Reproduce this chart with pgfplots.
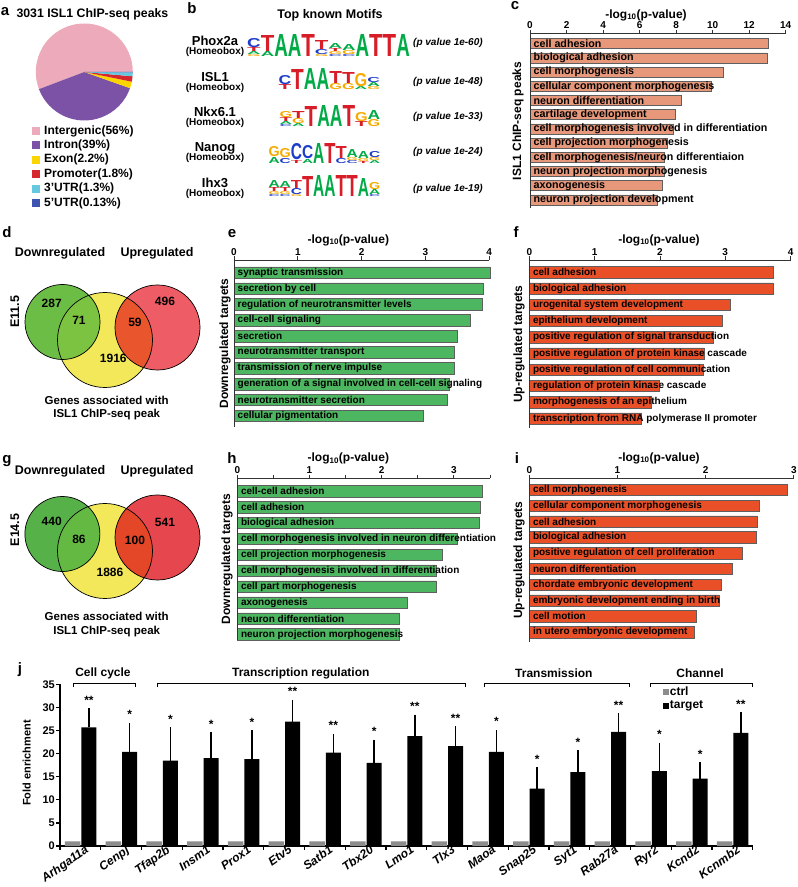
\documentclass[border=0pt]{standalone}
\usepackage{fontspec}
\setmainfont{Liberation Sans}
\usepackage{graphicx}
\usepackage{pgfplots}
\pgfplotsset{compat=1.18}
\newcommand\fs[1]{\fontsize{#1}{#1}\selectfont}
\definecolor{cpink}{RGB}{236,170,186}
\definecolor{cpurple}{RGB}{124,82,166}
\definecolor{cyellow}{RGB}{252,212,0}
\definecolor{cred}{RGB}{214,38,46}
\definecolor{ccyan}{RGB}{100,200,222}
\definecolor{cblue}{RGB}{62,82,178}
\definecolor{csal}{RGB}{232,152,122}
\definecolor{cgreenbar}{RGB}{76,182,96}
\definecolor{corbar}{RGB}{234,80,40}
\definecolor{bardraw}{RGB}{95,95,95}
\definecolor{vgreen}{RGB}{108,189,69}
\definecolor{vgreenY}{RGB}{125,195,66}
\definecolor{vred}{RGB}{238,92,102}
\definecolor{vredY}{RGB}{233,85,45}
\definecolor{vyellow}{RGB}{242,232,90}
\definecolor{wgreen}{RGB}{86,178,72}
\definecolor{wgreenY}{RGB}{100,185,66}
\definecolor{wred}{RGB}{230,70,78}
\definecolor{wredY}{RGB}{228,70,40}
\definecolor{ctrlgray}{RGB}{140,140,140}
\definecolor{lA}{RGB}{0,170,70}
\definecolor{lC}{RGB}{30,60,200}
\definecolor{lG}{RGB}{245,170,0}
\definecolor{lT}{RGB}{215,30,40}
\newcommand\LA{\textcolor{lA}{\bfseries A}}
\newcommand\LC{\textcolor{lC}{\bfseries C}}
\newcommand\LG{\textcolor{lG}{\bfseries G}}
\newcommand\LT{\textcolor{lT}{\bfseries T}}
% sequence logo: x0, baseline, column width, columns (bottom->top letter/height)
\newcommand\logo[4]{%
  \foreach \col [count=\i] in {#4} {%
    \foreach \l/\h [remember=\t as \b (initially 0), evaluate=\h as \t using \b+\h] in \col {%
      \node[anchor=south west, inner sep=0pt] at ({#1+(\i-1)*#3},{#2+\b}) {\resizebox{#3pt}{\h pt}{\csname L\l\endcsname}};
    }%
  }%
}
\pgfplotsset{
  gobar/.style={
    scale only axis, axis on top,
    axis x line=top, axis y line=left,
    axis line style={-, line width=0.9pt, draw=black!80},
    y dir=reverse, enlargelimits=false, clip=false,
    tick align=outside, major tick length=3.5pt,
    xtick style={line width=0.9pt, black!80},
    ytick style={draw=none},
    xticklabel style={font=\fs{10}\bfseries, inner sep=1pt},
    yticklabel style={anchor=west, xshift=7pt, font=\fs{10}\bfseries, inner sep=0pt},
    /pgf/number format/assume math mode=true,
  }
}
\begin{document}
\begin{tikzpicture}[font=\bfseries]
\path[use as bounding box] (0pt,0pt) rectangle (798pt,887pt);
\begin{scope}[x=1pt,y=1pt]
% ---------- panel letters
\foreach \t/\x/\y in {a/5/871.4,b/192/873.3,c/515/877,d/7/649,e/232/649,f/516/649,g/7/423,h/232/423,i/517/423,j/20/213.2}
  \node[anchor=base, font=\fs{15}\bfseries, inner sep=0pt] at (\x,\y) {\t};
% ---------- a : pie
\node[anchor=west, font=\fs{12.3}\bfseries] at (13,873) {3031 ISL1 ChIP-seq peaks};
\foreach \p/\c [remember=\e as \s (initially 0), evaluate=\p as \e using \s+\p*3.6/1.0043] in {56/cpink,39/cpurple,2.2/cyellow,1.8/cred,1.3/ccyan,0.13/cblue} {
  \fill[\c] (84.3,815) -- +(\s:48.5) arc[start angle=\s, end angle=\e, radius=48.5] -- cycle;
}
\foreach \c/\t [count=\i] in {cpink/Intergenic(56\%),cpurple/Intron(39\%),cyellow/Exon(2.2\%),cred/Promoter(1.8\%),ccyan/3'UTR(1.3\%),cblue/5'UTR(0.13\%)} {
  \fill[\c] (32,{887-131-(\i-1)*14.4-4}) rectangle ++(8,8);
  \node[anchor=west, font=\fs{12}\bfseries, inner sep=0pt] at (44,{887-131-(\i-1)*14.4}) {\t};
}
% ---------- b : motifs
\node[font=\fs{12.5}\bfseries] at (330,872) {Top known Motifs};
\foreach \n/\o/\p/\q in {Phox2a/0/60/0,ISL1/36/48/39,Nkx6.1/70.5/33/74,Nanog/106/24/109,Ihx3/141.5/19/146} {
  \node[anchor=base, font=\fs{13}\bfseries, inner sep=0pt] at (215,{841-\o}) {\n};
  \node[anchor=base, font=\fs{10}\bfseries, inner sep=0pt] at (215,{832-\o}) {(Homeobox)};
  \node[anchor=west, font=\fs{10}\bfseries\itshape, inner sep=0pt] at (413,{844-\q}) {(p value 1e-\p)};
}
\logo{247}{830.3}{13.55}{{G/2,A/3,T/4,C/9},{A/5,T/16},{A/22},{A/22},{T/22},{G/2,C/5,T/9},{C/2,G/3,T/3,A/5},{C/2,G/4,A/6},{A/22},{T/22},{T/22},{A/22}}
\logo{278.3}{797}{12.7}{{T/5,C/9},{T/20},{A/21},{A/21},{G/6,T/12},{G/6,T/11},{A/3,G/13},{G/3,A/4,C/5}}
\logo{279.3}{760.3}{12.6}{{C/2,A/3,T/4,G/6},{A/3,G/5,T/7},{T/20},{A/21},{A/21},{T/21},{T/5,G/9},{G/7,A/9}}
\logo{268.3}{723.7}{11.17}{{A/6,G/10},{C/5,G/9},{T/3,C/16},{A/4,C/13},{A/20},{T/20},{C/5,T/12},{C/3,G/3,A/8},{T/2,G/3,A/7},{A/3,G/3,C/6}}
\logo{268.3}{690.3}{11.17}{{C/2,G/3,T/4,A/7},{C/2,G/3,T/4,A/6},{G/2,C/6,T/8},{T/20},{A/21},{A/21},{T/21},{T/21},{A/18},{C/2,A/5,G/7}}
% ---------- d : Venn E11.5
\node[font=\fs{12.5}\bfseries] at (60,634) {Downregulated};
\node[font=\fs{12.5}\bfseries] at (157,634) {Upregulated};
\node[rotate=90, font=\fs{12.5}\bfseries] at (15,575) {E11.5};
\fill[vyellow] (105,547) circle[radius=47.5];
\fill[vgreen] (62.5,565) circle[radius=37.5];
\fill[vred] (157.5,559.5) circle[radius=42.5];
\begin{scope}
  \clip (105,547) circle[radius=47.5];
  \fill[vgreenY] (62.5,565) circle[radius=37.5];
  \fill[vredY] (157.5,559.5) circle[radius=42.5];
\end{scope}
\draw[line width=0.7pt] (105,547) circle[radius=47.5] (62.5,565) circle[radius=37.5] (157.5,559.5) circle[radius=42.5];
\foreach \v/\x/\y in {287/51.7/583.7,71/79/566.3,496/165/585.3,59/135/564.3,1916/113.3/528.7}
  \node[font=\fs{12}\bfseries] at (\x,\y) {\v};
\node[font=\fs{11.5}\bfseries] at (106.7,487) {Genes associated with};
\node[font=\fs{11.5}\bfseries] at (106.7,472) {ISL1 ChIP-seq peak};
% ---------- g : Venn E14.5
\node[font=\fs{12.5}\bfseries] at (60,415.3) {Downregulated};
\node[font=\fs{12.5}\bfseries] at (157,415.3) {Upregulated};
\node[rotate=90, font=\fs{12.5}\bfseries] at (15,357) {E14.5};
\fill[vyellow] (105,336) circle[radius=47.5];
\fill[wgreen] (62.4,353) circle[radius=37.5];
\fill[wred] (157.5,349.5) circle[radius=42.5];
\begin{scope}
  \clip (105,336) circle[radius=47.5];
  \fill[wgreenY] (62.4,353) circle[radius=37.5];
  \fill[wredY] (157.5,349.5) circle[radius=42.5];
\end{scope}
\draw[line width=0.7pt] (105,336) circle[radius=47.5] (62.4,353) circle[radius=37.5] (157.5,349.5) circle[radius=42.5];
\foreach \v/\x/\y in {440/51.7/365.3,86/79/347.7,541/165/364.3,100/135/347,1886/110/314.3}
  \node[font=\fs{12}\bfseries] at (\x,\y) {\v};
\node[font=\fs{11.5}\bfseries] at (106.7,270.3) {Genes associated with};
\node[font=\fs{11.5}\bfseries] at (106.7,255) {ISL1 ChIP-seq peak};
% ---------- axis titles and y labels
\foreach \x/\y in {646/872,348.3/647,659/647,348.3/428.7,659/429}
  \node[font=\fs{12}\bfseries] at (\x,\y) {-log\textsubscript{10}(p-value)};
\node[rotate=90, font=\fs{12}\bfseries] at (518,766) {ISL1 ChIP-seq peaks};
\node[rotate=90, font=\fs{12}\bfseries] at (225,543.5) {Downregulated targets};
\node[rotate=90, font=\fs{12}\bfseries] at (519,543) {Up-regulated targets};
\node[rotate=90, font=\fs{12}\bfseries] at (227,328) {Downregulated targets};
\node[rotate=90, font=\fs{12}\bfseries] at (519,327) {Up-regulated targets};
\node[rotate=90, font=\fs{11}\bfseries] at (26.7,124) {Fold enrichment};
\end{scope}
% ---------- c
\begin{axis}[gobar, at={(530pt,853.7pt)}, anchor=north west, width=255.7pt, height=174.7pt,
  xmin=0, xmax=14, xtick={0,2,...,14}, ymin=0.27, ymax=12.57, ytick={1,...,12},
  yticklabels={cell adhesion,biological adhesion,cell morphogenesis,cellular component morphogenesis,neuron differentiation,cartilage development,cell morphogenesis involved in differentiation,cell projection morphogenesis,cell morphogenesis/neuron differentiaion,neuron projection morphogenesis,axonogenesis,neuron projection development},
  yticklabel style={font=\fs{10.7}\bfseries}]
\addplot[xbar, bar width=0.7, fill=csal, draw=bardraw, line width=0.6pt] coordinates {(13.05,1) (13.0,2) (10.59,3) (9.95,4) (8.31,5) (7.94,6) (7.85,7) (7.54,8) (7.34,9) (7.36,10) (7.27,11) (6.99,12)};
\end{axis}
% ---------- e
\begin{axis}[gobar, at={(234pt,627pt)}, anchor=north west, width=255.2pt, height=167pt,
  xmin=0, xmax=4, xtick={0,...,4}, ymin=0.2, ymax=10.7, ytick={1,...,10},
  yticklabels={synaptic transmission,secretion by cell,regulation of neurotransmitter levels,cell-cell signaling,secretion,neurotransmitter transport,transmission of nerve impulse,generation of a signal involved in cell-cell signaling,neurotransmitter secretion,cellular pigmentation}]
\addplot[xbar, bar width=0.73, fill=cgreenbar, draw=bardraw, line width=0.6pt] coordinates {(4.01,1) (3.91,2) (3.89,3) (3.70,4) (3.50,5) (3.46,6) (3.45,7) (3.37,8) (3.34,9) (2.96,10)};
\end{axis}
% ---------- f
\begin{axis}[gobar, at={(529.3pt,627pt)}, anchor=north west, width=261.3pt, height=168pt,
  xmin=0, xmax=4, xtick={0,...,4}, ymin=0.24, ymax=10.58, ytick={1,...,10},
  yticklabels={cell adhesion,biological adhesion,urogenital system development,epithelium development,positive regulation of signal transduction,positive regulation of protein kinase cascade,positive regulation of cell communication,regulation of protein kinase cascade,morphogenesis of an epithelium,transcription from RNA polymerase II promoter}]
\addplot[xbar, bar width=0.7, fill=corbar, draw=bardraw, line width=0.6pt] coordinates {(3.74,1) (3.73,2) (3.08,3) (2.96,4) (2.82,5) (2.68,6) (2.67,7) (1.99,8) (1.86,9) (1.72,10)};
\end{axis}
% ---------- h
\begin{axis}[gobar, at={(237.3pt,408.7pt)}, anchor=north west, width=252.7pt, height=161.7pt,
  xmin=0, xmax=3.5, xtick={0,0.5,...,3.5}, xticklabels={0,,1,,2,,3,}, ymin=0.2, ymax=10.34, ytick={1,...,10},
  yticklabels={cell-cell adhesion,cell adhesion,biological adhesion,cell morphogenesis involved in neuron differentiation,cell projection morphogenesis,cell morphogenesis involved in differentiation,cell part morphogenesis,axonogenesis,neuron differentiation,neuron projection morphogenesis}]
\addplot[xbar, bar width=0.73, fill=cgreenbar, draw=bardraw, line width=0.6pt] coordinates {(3.40,1) (3.37,2) (3.35,3) (3.05,4) (2.84,5) (2.76,6) (2.76,7) (2.35,8) (2.24,9) (2.24,10)};
\end{axis}
% ---------- i
\begin{axis}[gobar, at={(529.3pt,408.7pt)}, anchor=north west, width=264.6pt, height=163.4pt,
  xmin=0, xmax=3, xtick={0,...,3}, ymin=0.26, ymax=10.6, ytick={1,...,10},
  yticklabels={cell morphogenesis,cellular component morphogenesis,cell adhesion,biological adhesion,positive regulation of cell proliferation,neuron differentiation,chordate embryonic development,embryonic development ending in birth,cell motion,in utero embryonic development}]
\addplot[xbar, bar width=0.73, fill=corbar, draw=bardraw, line width=0.6pt] coordinates {(2.93,1) (2.61,2) (2.58,3) (2.57,4) (2.42,5) (2.30,6) (2.18,7) (2.15,8) (1.89,9) (1.87,10)};
\end{axis}
% ---------- j
\begin{axis}[scale only axis, at={(60pt,41pt)}, anchor=south west, width=692.7pt, height=161.7pt,
  axis x line=bottom, axis y line=left, axis line style={-, line width=1.4pt},
  clip=false, enlargelimits=false,
  xmin=-0.5, xmax=16.5, ymin=0, ymax=35, ytick={0,5,...,35},
  tick align=outside, major tick length=4pt, tick style={line width=1.3pt, black},
  xtick={-0.5,0.5,...,16.5}, xticklabels={},
  extra x ticks={0,...,16},
  extra x tick labels={Arhga11a,Cenpj,Tfap2b,Insm1,Prox1,Etv5,Satb1,Tbx20,Lmo1,Tlx3,Maoa,Snap25,Syt1,Rab27a,Ryr2,Kcnd2,Kcnmb2},
  extra x tick style={major tick length=0pt, xticklabel style={font=\fs{12}\bfseries\itshape, rotate=35, anchor=north east, inner sep=1pt, xshift=5pt}},
  yticklabel style={font=\fs{11}\bfseries, inner sep=1pt},
  /pgf/number format/assume math mode=true,
  legend style={draw=none, fill=none, at={(axis cs:14.3,34.6)}, anchor=north west, font=\fs{12}\bfseries, row sep=2.5pt, inner sep=0pt, nodes={inner sep=0.6pt}},
  legend cell align=left,
  legend image code/.code={\begin{scope}[#1,/tikz/.cd] \fill (0pt,-3pt) rectangle (6pt,3pt); \end{scope}},
  ]
\addplot[ybar, bar width=0.38, bar shift=0, fill=ctrlgray, draw=none] coordinates {(-0.19,1) (0.81,1) (1.81,1) (2.81,1) (3.81,1) (4.81,1) (5.81,1) (6.81,1) (7.81,1) (8.81,1) (9.81,1) (10.81,1) (11.81,1) (12.81,1) (13.81,1) (14.81,1) (15.81,1)};
\addlegendentry{ctrl}
\addplot[ybar, bar width=0.37, bar shift=0, fill=black, draw=none,
  error bars/.cd, y dir=plus, y explicit, error mark=-, error bar style={line width=1.5pt, black}, error mark options={line width=1.5pt, mark size=3pt, black}]
  coordinates {(0.21,25.7) +- (0,3.5) (1.21,20.4) +- (0,5.6) (2.21,18.5) +- (0,6.6) (3.21,19.0) +- (0,5.0) (4.21,18.8) +- (0,5.6) (5.21,26.9) +- (0,4.1) (6.21,20.2) +- (0,3.5) (7.21,18.0) +- (0,4.4) (8.21,23.8) +- (0,4.0) (9.21,21.6) +- (0,3.7) (10.21,20.4) +- (0,4.1) (11.21,12.4) +- (0,4.0) (12.21,16.0) +- (0,4.1) (13.21,24.7) +- (0,3.4) (14.21,16.2) +- (0,5.5) (15.21,14.6) +- (0,2.9) (16.21,24.5) +- (0,3.8)};
\addlegendentry{target}
\addplot[draw=none, forget plot, nodes near coords, point meta=explicit symbolic,
  every node near coord/.append style={anchor=base, yshift=7pt, font=\fs{12}\bfseries, inner sep=0pt}]
  coordinates {(0.21,29.2)[**] (1.21,26.0)[*] (2.21,25.1)[*] (3.21,24.0)[*] (4.21,24.4)[*] (5.21,31.0)[**] (6.21,23.7)[**] (7.21,22.4)[*] (8.21,27.8)[**] (9.21,25.3)[**] (10.21,24.5)[*] (11.21,16.4)[*] (12.21,20.1)[*] (13.21,28.1)[**] (14.21,21.7)[*] (15.21,17.5)[*] (16.21,28.3)[**]};
\draw[line width=1pt] (axis cs:-0.17,34.5) -- (axis cs:-0.17,35.2) -- (axis cs:1.36,35.2) -- (axis cs:1.36,34.5);
\draw[line width=1pt] (axis cs:1.89,34.5) -- (axis cs:1.89,35.2) -- (axis cs:9.44,35.2) -- (axis cs:9.44,34.5);
\draw[line width=1pt] (axis cs:9.93,34.5) -- (axis cs:9.93,35.2) -- (axis cs:13.47,35.2) -- (axis cs:13.47,34.5);
\draw[line width=1pt] (axis cs:14.0,34.5) -- (axis cs:14.0,35.2) -- (axis cs:16.5,35.2) -- (axis cs:16.5,34.5);
\node[font=\fs{12}\bfseries] at (axis cs:0.555,37.4) {Cell cycle};
\node[font=\fs{12}\bfseries] at (axis cs:5.41,37.4) {Transcription regulation};
\node[font=\fs{12}\bfseries] at (axis cs:11.62,37.4) {Transmission};
\node[font=\fs{12}\bfseries] at (axis cs:15.21,37.4) {Channel};
\end{axis}
\end{tikzpicture}
\end{document}
